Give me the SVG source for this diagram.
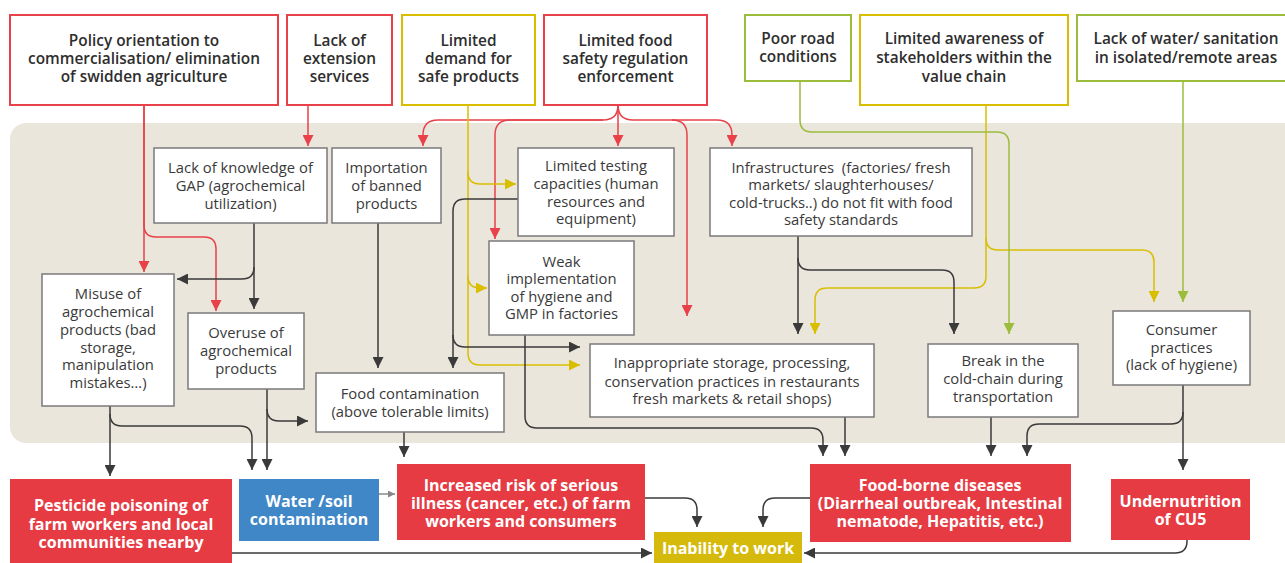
<svg xmlns="http://www.w3.org/2000/svg" width="1285" height="563" viewBox="0 0 1285 563">
<style>
.t{fill:#fff;stroke-width:2}
.r{stroke:#E8414A}.y{stroke:#D9BE00}.g{stroke:#9CBD3C}
.box{fill:#fff;stroke:#7a7a7a;stroke-width:1.5}
.h{font-family:"Open Sans","Liberation Sans",sans-serif;font-weight:600;font-size:15.4px;fill:#2e2e2e;text-anchor:middle}
.m{font-family:"Open Sans","Liberation Sans",sans-serif;font-weight:400;font-size:14.8px;fill:#3a3a3a;text-anchor:middle}
.b{font-family:"Open Sans","Liberation Sans",sans-serif;font-weight:700;font-size:16px;fill:#fff;text-anchor:middle;font-stretch:88%}
.c{fill:none;stroke-width:1.5}
.cr{stroke:#E8414A;marker-end:url(#ar)}
.cy{stroke:#D9BE00;marker-end:url(#ay)}
.cg{stroke:#9CBD3C;marker-end:url(#ag)}
.cd{stroke:#3a3a3a;marker-end:url(#ad)}
</style>
<defs>
<marker id="ar" viewBox="0 0 10 10" refX="10" refY="5" markerWidth="11" markerHeight="11" markerUnits="userSpaceOnUse" orient="auto"><path d="M0,0L10,5L0,10z" fill="#E8414A"/></marker>
<marker id="ay" viewBox="0 0 10 10" refX="10" refY="5" markerWidth="11" markerHeight="11" markerUnits="userSpaceOnUse" orient="auto"><path d="M0,0L10,5L0,10z" fill="#D9BE00"/></marker>
<marker id="ag" viewBox="0 0 10 10" refX="10" refY="5" markerWidth="11" markerHeight="11" markerUnits="userSpaceOnUse" orient="auto"><path d="M0,0L10,5L0,10z" fill="#9CBD3C"/></marker>
<marker id="ad" viewBox="0 0 10 10" refX="10" refY="5" markerWidth="11" markerHeight="11" markerUnits="userSpaceOnUse" orient="auto"><path d="M0,0L10,5L0,10z" fill="#3a3a3a"/></marker>
<marker id="as" viewBox="0 0 10 10" refX="10" refY="5" markerWidth="7" markerHeight="7" markerUnits="userSpaceOnUse" orient="auto"><path d="M0,0L10,5L0,10z" fill="#888"/></marker>
</defs>
<rect width="1285" height="563" fill="#fff"/>
<rect x="10" y="123" width="1300" height="320" rx="16" fill="#EAE6DC"/>

<g id="connectors">
<path class="c cr" d="M144,105V272"/>
<path class="c cr" d="M144,105V225Q144,237 156,237H204Q216,237 216,249V311"/>
<path class="c cr" d="M308,105V146"/>
<path class="c cr" d="M618,105Q618,120 603,120H438Q423,120 423,135V146"/>
<path class="c cr" d="M603,120H510Q495,120 495,135V239"/>
<path class="c cr" d="M618,105V146"/>
<path class="c cr" d="M618,105Q618,120 633,120H672Q687,120 687,135V316"/>
<path class="c cr" d="M672,120H717Q732,120 732,135V146"/>
<path class="c cy" d="M468,105V353Q468,365 480,365H580"/>
<path class="c cy" d="M468,172Q468,184 480,184H516"/>
<path class="c cy" d="M468,276Q468,288 480,288H487"/>
<path class="c cy" d="M986,105V238Q986,250 998,250H1142Q1154,250 1154,262V302"/>
<path class="c cy" d="M986,238V276Q986,288 974,288H827Q815,288 815,300V334"/>
<path class="c cg" d="M800,81V120Q800,132 812,132H997Q1009,132 1009,144V334"/>
<path class="c cg" d="M1183,81V302"/>
<path class="c cd" d="M254,223V309"/>
<path class="c cd" d="M254,267Q254,279 242,279H177"/>
<path class="c cd" d="M378,223V368"/>
<path class="c cd" d="M518,199H465Q453,199 453,211V368"/>
<path class="c cd" d="M453,335Q453,347 465,347H580"/>
<path class="c cd" d="M798,236V334"/>
<path class="c cd" d="M798,258Q798,270 810,270H942Q954,270 954,282V334"/>
<path class="c cd" d="M110,406V476"/>
<path class="c cd" d="M110,414Q110,426 122,426H240Q252,426 252,438V470"/>
<path class="c cd" d="M267,389V470"/>
<path class="c cd" d="M267,409Q267,421 279,421H308"/>
<path class="c cd" d="M404,432V457"/>
<path class="c cd" d="M525,335V416Q525,428 537,428H811Q823,428 823,440V456"/>
<path class="c cd" d="M845,417V456"/>
<path class="c cd" d="M991,417V456"/>
<path class="c cd" d="M1183,385V470"/>
<path class="c cd" d="M1183,412Q1183,424 1171,424H1039Q1027,424 1027,436V456"/>
<path class="c cd" d="M232,553H652"/>
<path class="c cd" d="M1187,540V541Q1187,553 1175,553H804"/>
<path class="c cd" d="M645,498H685Q697,498 697,510V527"/>
<path class="c cd" d="M810,498H775Q763,498 763,510V527"/>
<path class="c" stroke="#888" stroke-width="1.2" marker-end="url(#as)" d="M379,494H395"/>
</g>

<g id="n-policy"><rect class="t r" x="10" y="15" width="268" height="90"/>
<text class="h" x="144" y="46">Policy orientation to</text><text class="h" x="144" y="64">commercialisation/ elimination</text><text class="h" x="144" y="82">of swidden agriculture</text></g>
<g id="n-extension"><rect class="t r" x="287" y="15" width="105" height="90"/>
<text class="h" x="339.5" y="46">Lack of</text><text class="h" x="339.5" y="64">extension</text><text class="h" x="339.5" y="82">services</text></g>
<g id="n-demand"><rect class="t y" x="402" y="15" width="133" height="90"/>
<text class="h" x="468.5" y="46">Limited</text><text class="h" x="468.5" y="64">demand for</text><text class="h" x="468.5" y="82">safe products</text></g>
<g id="n-enforcement"><rect class="t r" x="544" y="15" width="163" height="90"/>
<text class="h" x="625.5" y="46">Limited food</text><text class="h" x="625.5" y="64">safety regulation</text><text class="h" x="625.5" y="82">enforcement</text></g>
<g id="n-road"><rect class="t g" x="745" y="15" width="106" height="66"/>
<text class="h" x="798" y="44">Poor road</text><text class="h" x="798" y="62">conditions</text></g>
<g id="n-awareness"><rect class="t y" x="860" y="15" width="208" height="90"/>
<text class="h" x="964" y="44">Limited awareness of</text><text class="h" x="964" y="63">stakeholders within the</text><text class="h" x="964" y="82">value chain</text></g>
<g id="n-water"><rect class="t g" x="1077" y="15" width="220" height="66"/>
<text class="h" x="1186" y="44">Lack of water/ sanitation</text><text class="h" x="1186" y="63">in isolated/remote areas</text></g>

<g id="n-gap"><rect class="box" x="154" y="148" width="173" height="75"/>
<text class="m" x="240.5" y="173">Lack of knowledge of</text><text class="m" x="240.5" y="191">GAP (agrochemical</text><text class="m" x="240.5" y="209">utilization)</text></g>
<g id="n-import"><rect class="box" x="332" y="148" width="109" height="75"/>
<text class="m" x="386.5" y="173">Importation</text><text class="m" x="386.5" y="191">of banned</text><text class="m" x="386.5" y="209">products</text></g>
<g id="n-testing"><rect class="box" x="518" y="148" width="156" height="88"/>
<text class="m" x="596" y="171">Limited testing</text><text class="m" x="596" y="189">capacities (human</text><text class="m" x="596" y="207">resources and</text><text class="m" x="596" y="224">equipment)</text></g>
<g id="n-infra"><rect class="box" x="710" y="148" width="262" height="88"/>
<text class="m" x="841" y="173" xml:space="preserve">Infrastructures  (factories/ fresh</text><text class="m" x="841" y="190">markets/ slaughterhouses/</text><text class="m" x="841" y="208">cold-trucks..) do not fit with food</text><text class="m" x="841" y="225">safety standards</text></g>
<g id="n-weak"><rect class="box" x="489" y="241" width="145" height="94"/>
<text class="m" x="561.5" y="267">Weak</text><text class="m" x="561.5" y="284">implementation</text><text class="m" x="561.5" y="302">of hygiene and</text><text class="m" x="561.5" y="319">GMP in factories</text></g>
<g id="n-misuse"><rect class="box" x="42" y="274" width="132" height="132"/>
<text class="m" x="108" y="299">Misuse of</text><text class="m" x="108" y="317">agrochemical</text><text class="m" x="108" y="335">products (bad</text><text class="m" x="108" y="353">storage,</text><text class="m" x="108" y="370">manipulation</text><text class="m" x="108" y="388">mistakes…)</text></g>
<g id="n-overuse"><rect class="box" x="188" y="313" width="116" height="76"/>
<text class="m" x="246" y="338">Overuse of</text><text class="m" x="246" y="356">agrochemical</text><text class="m" x="246" y="374">products</text></g>
<g id="n-contam"><rect class="box" x="316" y="373" width="188" height="59"/>
<text class="m" x="410" y="399">Food contamination</text><text class="m" x="410" y="417">(above tolerable limits)</text></g>
<g id="n-storage"><rect class="box" x="590" y="344" width="284" height="73"/>
<text class="m" x="732" y="368">Inappropriate storage, processing,</text><text class="m" x="732" y="387">conservation practices in restaurants</text><text class="m" x="732" y="404">fresh markets &amp; retail shops)</text></g>
<g id="n-coldchain"><rect class="box" x="928" y="344" width="150" height="73"/>
<text class="m" x="1003" y="366">Break in the</text><text class="m" x="1003" y="384">cold-chain during</text><text class="m" x="1003" y="402">transportation</text></g>
<g id="n-consumer"><rect class="box" x="1113" y="311" width="137" height="74"/>
<text class="m" x="1181.5" y="335">Consumer</text><text class="m" x="1181.5" y="353">practices</text><text class="m" x="1181.5" y="370">(lack of hygiene)</text></g>

<g id="n-pesticide"><rect x="10" y="479" width="222" height="90" fill="#E63B43"/>
<text class="b" x="121" y="511">Pesticide poisoning of</text><text class="b" x="121" y="530">farm workers and local</text><text class="b" x="121" y="548">communities nearby</text></g>
<g id="n-watersoil"><rect x="239" y="479" width="140" height="62" fill="#3F87C7"/>
<text class="b" x="309" y="507">Water /soil</text><text class="b" x="309" y="525">contamination</text></g>
<g id="n-risk"><rect x="397" y="464" width="248" height="76" fill="#E63B43"/>
<text class="b" x="521" y="491">Increased risk of serious</text><text class="b" x="521" y="509">illness (cancer, etc.) of farm</text><text class="b" x="521" y="527">workers and consumers</text></g>
<g id="n-inability"><rect x="654" y="532" width="148" height="35" fill="#D5BA0B"/>
<text class="b" x="728" y="554">Inability to work</text></g>
<g id="n-foodborne"><rect x="810" y="464" width="261" height="78" fill="#E63B43"/>
<text class="b" x="940" y="491">Food-borne diseases</text><text class="b" x="940" y="509">(Diarrheal outbreak, Intestinal</text><text class="b" x="940" y="527">nematode, Hepatitis, etc.)</text></g>
<g id="n-undernutrition"><rect x="1111" y="479" width="139" height="61" fill="#E63B43"/>
<text class="b" x="1180.5" y="507">Undernutrition</text><text class="b" x="1180.5" y="525">of CU5</text></g>
</svg>
